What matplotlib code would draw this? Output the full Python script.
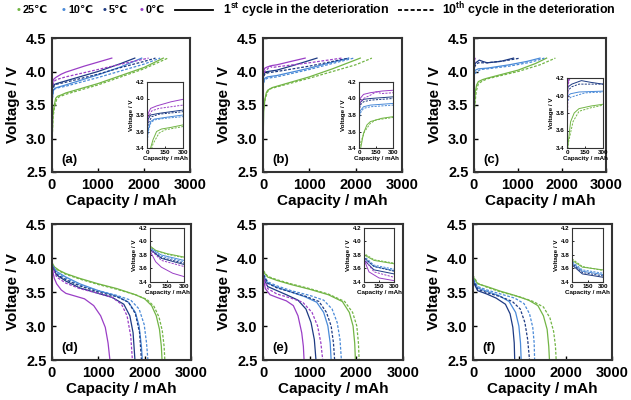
import matplotlib
matplotlib.use("Agg")
import matplotlib.pyplot as plt

# ======================================
# Charge / discharge curves at 4 temperatures, 1st vs 10th cycle
# ======================================

plt.rcParams['font.family'] = ['Liberation Sans', 'DejaVu Sans']
plt.rcParams['font.weight'] = 'bold'
plt.rcParams['mathtext.fontset'] = 'custom'
plt.rcParams['mathtext.rm'] = 'Liberation Sans:bold'
plt.rcParams['mathtext.bf'] = 'Liberation Sans:bold'

temps = ["25℃", "10℃", "5℃", "0℃"]
colors = ["#72b545", "#4a8ad8", "#1d3a82", "#9a3ec6"]
panel_tags = ["(a)", "(b)", "(c)", "(d)", "(e)", "(f)"]

main_xticks = [0, 1000, 2000, 3000]
main_yticks = [2.5, 3.0, 3.5, 4.0, 4.5]
inset_xticks = [0, 150, 300]
inset_yticks = [3.4, 3.6, 3.8, 4.0, 4.2]

# curve order in every panel: 25 1st, 25 10th, 10 1st, 10 10th, 5 1st, 5 10th, 0 1st, 0 10th
# ---- charge (a)
a_caps = [
    [0, 20, 50, 80, 120, 200, 300, 1000, 1500, 2000, 2420],
    [0, 20, 50, 100, 150, 300, 1000, 1500, 2000, 2520],
    [0, 10, 30, 60, 150, 300, 1000, 1500, 1950],
    [0, 10, 30, 60, 150, 300, 1000, 1500, 2000, 2350],
    [0, 10, 30, 100, 200, 300, 1000, 1500, 1800],
    [0, 10, 40, 100, 300, 1000, 1500, 2000, 2250],
    [0, 10, 30, 80, 200, 300, 700, 1000, 1300],
    [0, 10, 40, 100, 200, 300, 1000, 1500, 2100],
]
a_volts = [
    [2.9, 3.35, 3.5, 3.6, 3.63, 3.65, 3.68, 3.82, 3.94, 4.06, 4.2],
    [2.9, 3.3, 3.45, 3.58, 3.62, 3.66, 3.8, 3.92, 4.04, 4.2],
    [3.5, 3.62, 3.72, 3.75, 3.77, 3.8, 3.95, 4.07, 4.2],
    [3.4, 3.6, 3.7, 3.74, 3.76, 3.78, 3.91, 4.01, 4.11, 4.2],
    [3.6, 3.75, 3.8, 3.82, 3.84, 3.86, 4.0, 4.12, 4.2],
    [3.5, 3.7, 3.78, 3.81, 3.84, 3.96, 4.06, 4.15, 4.2],
    [3.7, 3.82, 3.88, 3.91, 3.96, 3.99, 4.08, 4.14, 4.2],
    [3.6, 3.78, 3.85, 3.88, 3.9, 3.92, 4.03, 4.11, 4.2],
]
# ---- charge (b)
b_caps = [
    [0, 15, 40, 70, 100, 200, 300, 1000, 1500, 2100],
    [0, 10, 50, 100, 150, 300, 1000, 1500, 2000, 2350],
    [0, 10, 40, 100, 200, 300, 1000, 1500, 1850],
    [0, 10, 40, 100, 200, 300, 1000, 1500, 1960],
    [0, 10, 40, 100, 200, 300, 700, 1165],
    [0, 10, 40, 100, 200, 300, 1000, 1500, 1850],
    [0, 2, 10, 40, 100, 200, 300, 600, 910],
    [0, 10, 40, 100, 150, 200, 300, 1000, 1700],
]
b_volts = [
    [2.9, 3.4, 3.58, 3.68, 3.72, 3.76, 3.78, 3.92, 4.04, 4.2],
    [3.3, 3.45, 3.6, 3.7, 3.74, 3.77, 3.9, 4.0, 4.1, 4.2],
    [3.75, 3.85, 3.9, 3.92, 3.93, 3.94, 4.05, 4.14, 4.2],
    [3.7, 3.82, 3.88, 3.9, 3.91, 3.92, 4.03, 4.12, 4.2],
    [3.85, 3.95, 3.99, 4.0, 4.01, 4.02, 4.1, 4.2],
    [3.8, 3.92, 3.96, 3.98, 3.99, 4.0, 4.08, 4.15, 4.2],
    [2.9, 3.9, 4.0, 4.05, 4.07, 4.09, 4.1, 4.15, 4.2],
    [3.85, 3.95, 4.0, 4.04, 4.08, 4.06, 4.07, 4.13, 4.2],
]
# ---- charge (c)
c_caps = [
    [0, 5, 30, 60, 100, 200, 300, 1000, 1400, 1650],
    [0, 10, 50, 100, 200, 300, 1000, 1500, 1850],
    [0, 10, 30, 100, 300, 800, 1200, 1500],
    [0, 10, 30, 150, 300, 800, 1300, 1600],
    [0, 10, 40, 120, 200, 300, 600, 900],
    [0, 10, 40, 100, 300, 700, 1050],
    [0, 5, 15],
    [0, 8, 25],
]
c_volts = [
    [2.9, 3.4, 3.7, 3.8, 3.85, 3.88, 3.9, 4.02, 4.12, 4.2],
    [3.0, 3.45, 3.7, 3.82, 3.86, 3.89, 4.0, 4.1, 4.2],
    [3.95, 4.0, 4.02, 4.04, 4.05, 4.1, 4.15, 4.2],
    [3.9, 3.95, 3.98, 4.03, 4.04, 4.08, 4.14, 4.2],
    [4.05, 4.1, 4.13, 4.17, 4.15, 4.13, 4.15, 4.2],
    [4.0, 4.06, 4.1, 4.13, 4.13, 4.16, 4.2],
    [3.0, 4.1, 4.2],
    [3.2, 4.12, 4.2],
]
# ---- discharge (d)
d_caps = [
    [0, 3, 50, 150, 300, 600, 1000, 1400, 1800, 2000, 2150, 2250, 2320, 2360, 2375],
    [0, 3, 50, 150, 300, 600, 1000, 1400, 1800, 2050, 2200, 2310, 2380, 2420, 2435],
    [0, 3, 100, 300, 600, 1000, 1400, 1650, 1800, 1880, 1930, 1950],
    [0, 3, 100, 300, 600, 1000, 1400, 1700, 1880, 1990, 2040, 2070],
    [0, 3, 100, 300, 600, 1000, 1300, 1550, 1680, 1750, 1790],
    [0, 3, 100, 300, 600, 1000, 1400, 1650, 1800, 1890, 1930],
    [0, 3, 50, 100, 200, 300, 500, 700, 900, 1050, 1150, 1210, 1250],
    [0, 3, 100, 300, 600, 1000, 1300, 1500, 1620, 1700, 1735],
]
d_volts = [
    [4.2, 3.93, 3.87, 3.82, 3.77, 3.7, 3.62, 3.55, 3.46, 3.4, 3.3, 3.15, 2.95, 2.7, 2.5],
    [4.2, 3.92, 3.86, 3.81, 3.76, 3.69, 3.61, 3.54, 3.46, 3.39, 3.29, 3.13, 2.93, 2.7, 2.5],
    [4.2, 3.9, 3.8, 3.72, 3.62, 3.52, 3.44, 3.35, 3.2, 3.0, 2.7, 2.5],
    [4.2, 3.88, 3.78, 3.7, 3.6, 3.52, 3.45, 3.38, 3.25, 3.02, 2.75, 2.5],
    [4.2, 3.88, 3.75, 3.66, 3.56, 3.48, 3.42, 3.32, 3.15, 2.9, 2.5],
    [4.2, 3.87, 3.76, 3.68, 3.59, 3.5, 3.43, 3.35, 3.18, 2.9, 2.5],
    [4.2, 3.85, 3.7, 3.62, 3.53, 3.48, 3.44, 3.4, 3.3, 3.15, 2.98, 2.75, 2.5],
    [4.2, 3.88, 3.72, 3.63, 3.55, 3.48, 3.42, 3.32, 3.15, 2.85, 2.5],
]
# ---- discharge (e)
e_caps = [
    [0, 3, 100, 300, 600, 1000, 1400, 1700, 1850, 1930, 1965, 1980],
    [0, 3, 100, 300, 600, 1000, 1400, 1750, 1920, 2010, 2045, 2060],
    [0, 3, 100, 300, 600, 900, 1150, 1300, 1390, 1440, 1460],
    [0, 3, 100, 300, 600, 1000, 1300, 1480, 1590, 1650, 1680],
    [0, 3, 100, 300, 500, 750, 920, 1030, 1100, 1135],
    [0, 3, 100, 300, 600, 900, 1200, 1360, 1460, 1510, 1535],
    [0, 3, 50, 150, 300, 500, 650, 750, 830, 865, 880],
    [0, 3, 100, 300, 600, 850, 1050, 1170, 1240, 1280],
]
e_volts = [
    [4.2, 3.8, 3.72, 3.67, 3.61, 3.54, 3.46, 3.36, 3.2, 3.0, 2.75, 2.5],
    [4.2, 3.82, 3.73, 3.68, 3.62, 3.55, 3.47, 3.36, 3.2, 3.0, 2.75, 2.5],
    [4.2, 3.75, 3.63, 3.57, 3.5, 3.43, 3.35, 3.2, 3.0, 2.75, 2.5],
    [4.2, 3.78, 3.65, 3.59, 3.52, 3.45, 3.38, 3.25, 3.05, 2.8, 2.5],
    [4.2, 3.72, 3.58, 3.52, 3.46, 3.38, 3.25, 3.05, 2.8, 2.5],
    [4.2, 3.76, 3.63, 3.56, 3.5, 3.44, 3.36, 3.2, 3.0, 2.75, 2.5],
    [4.2, 3.72, 3.55, 3.46, 3.42, 3.37, 3.3, 3.15, 2.9, 2.7, 2.5],
    [4.2, 3.74, 3.55, 3.47, 3.41, 3.35, 3.2, 3.0, 2.75, 2.5],
]
# ---- discharge (f)
f_caps = [
    [0, 3, 100, 300, 600, 900, 1200, 1400, 1520, 1600, 1635, 1650],
    [0, 3, 100, 300, 600, 1000, 1300, 1520, 1660, 1740, 1780, 1795],
    [0, 3, 100, 300, 550, 780, 920, 990, 1025, 1040],
    [0, 3, 100, 300, 600, 900, 1100, 1220, 1290, 1320, 1330],
    [0, 3, 100, 300, 500, 700, 800, 860, 890, 900],
    [0, 3, 100, 300, 600, 850, 1020, 1120, 1180, 1220],
    [0, 3],
    [0, 4],
]
f_volts = [
    [4.2, 3.72, 3.62, 3.58, 3.51, 3.45, 3.38, 3.3, 3.15, 2.95, 2.7, 2.5],
    [4.2, 3.74, 3.63, 3.57, 3.5, 3.43, 3.36, 3.28, 3.12, 2.92, 2.7, 2.5],
    [4.2, 3.68, 3.56, 3.51, 3.45, 3.36, 3.2, 3.0, 2.75, 2.5],
    [4.2, 3.7, 3.58, 3.53, 3.47, 3.41, 3.33, 3.18, 2.98, 2.75, 2.5],
    [4.2, 3.65, 3.52, 3.47, 3.41, 3.32, 3.18, 2.98, 2.75, 2.5],
    [4.2, 3.67, 3.54, 3.49, 3.43, 3.36, 3.25, 3.05, 2.8, 2.5],
    [4.2, 2.5],
    [4.2, 2.5],
]

all_caps = [a_caps, b_caps, c_caps, d_caps, e_caps, f_caps]
all_volts = [a_volts, b_volts, c_volts, d_volts, e_volts, f_volts]

W, H = 631, 400
fig = plt.figure(figsize=(W / 100, H / 100), dpi=100)

# main axes boxes in pixels: left, top, width, height
main_boxes = [(52, 38, 138, 134), (263, 38, 139, 134), (474, 38, 132, 134),
              (52, 224, 139, 136), (263, 224, 140, 136), (473, 224, 139, 136)]
inset_boxes = [(147, 82, 36, 66), (359, 82, 34, 66), (567, 78, 36, 70),
               (150, 228, 34, 54), (364, 228, 30, 54), (572, 228, 31, 54)]


def px_axes(box):
    l, t, w, h = box
    return fig.add_axes([l / W, 1 - (t + h) / H, w / W, h / H])


def draw_curves(ax, caps, volts, lw):
    for i in range(8):
        ls = "-" if i % 2 == 0 else (0, (2.2, 1.3))
        ax.plot(caps[i], volts[i], color=colors[i // 2], lw=lw, ls=ls)


for k in range(6):
    ax = px_axes(main_boxes[k])
    draw_curves(ax, all_caps[k], all_volts[k], 0.9)
    ax.set_xlim(0, 3000)
    ax.set_ylim(2.5, 4.5)
    ax.set_xticks(main_xticks)
    ax.set_yticks(main_yticks)
    ax.set_yticklabels([f"{v:.1f}" for v in main_yticks])
    ax.tick_params(direction="in", length=3, width=1, labelsize=10.5, pad=4)
    for s in ax.spines.values():
        s.set_linewidth(1.5)
        s.set_color("#333333")
    ax.set_xlabel("Capacity / mAh", fontsize=11, fontweight="bold", labelpad=2)
    ax.set_ylabel("Voltage / V", fontsize=11, fontweight="bold", labelpad=4)
    ax.text(0.07, 0.09, panel_tags[k], transform=ax.transAxes, fontsize=9.5,
            fontweight="bold", va="center")

    ins = px_axes(inset_boxes[k])
    draw_curves(ins, all_caps[k], all_volts[k], 0.7)
    ins.set_xlim(0, 300)
    ins.set_ylim(3.4, 4.2)
    ins.set_xticks(inset_xticks)
    ins.set_yticks(inset_yticks)
    ins.set_yticklabels([f"{v:.1f}" for v in inset_yticks])
    ins.tick_params(direction="in", length=1.5, width=0.6, labelsize=4.5, pad=1.5)
    for s in ins.spines.values():
        s.set_linewidth(0.8)
        s.set_color("#333333")
    ins.set_xlabel("Capacity / mAh", fontsize=4.5, fontweight="bold", labelpad=1)
    ins.set_ylabel("Voltage / V", fontsize=4.5, fontweight="bold", labelpad=1.5)

# legend across the top
ly = 1 - 10 / H
bullet_x = [17, 62, 103, 140]
for i in range(4):
    fig.text(bullet_x[i] / W, ly, "•", color=colors[i], fontsize=8, va="center")
    fig.text((bullet_x[i] + 6) / W, ly, temps[i], fontsize=7.8, va="center",
             fontweight="bold")
fig.add_artist(plt.Line2D([175 / W, 213 / W], [ly, ly], color="black", lw=1.3))
fig.text(223 / W, ly, r"1$^{\mathbf{st}}$ cycle in the deterioration", fontsize=8.9,
         va="center", fontweight="bold")
fig.add_artist(plt.Line2D([398 / W, 434 / W], [ly, ly], color="black", lw=1.3,
                          ls=(0, (2.2, 1.3))))
fig.text(442 / W, ly, r"10$^{\mathbf{th}}$ cycle in the deterioration", fontsize=8.9,
         va="center", fontweight="bold")

fig.savefig("out.png", dpi=100)
